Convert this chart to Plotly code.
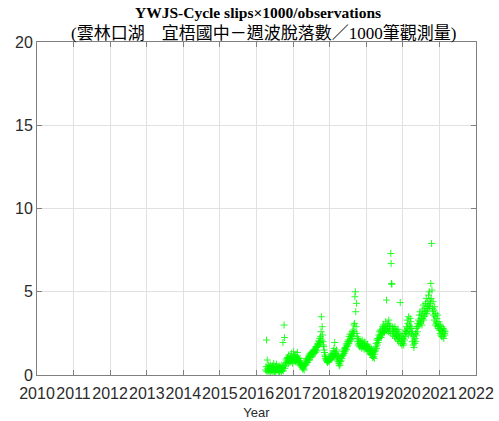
import calendar
from datetime import datetime, timedelta

import plotly.graph_objects as go

# Cycle slips per 1000 observations, station YWJS; several samples per month
months = [
    "2016-04", "2016-05", "2016-06", "2016-07", "2016-08", "2016-09", "2016-10", "2016-11", "2016-12",
    "2017-01", "2017-02", "2017-03", "2017-04", "2017-05", "2017-06", "2017-07", "2017-08", "2017-09",
    "2017-10", "2017-11", "2017-12",
    "2018-01", "2018-02", "2018-03", "2018-04", "2018-05", "2018-06", "2018-07", "2018-08", "2018-09",
    "2018-10", "2018-11", "2018-12",
    "2019-01", "2019-02", "2019-03", "2019-04", "2019-05", "2019-06", "2019-07", "2019-08", "2019-09",
    "2019-10", "2019-11", "2019-12",
    "2020-01", "2020-02", "2020-03", "2020-04", "2020-05", "2020-06", "2020-07", "2020-08", "2020-09",
    "2020-10", "2020-11", "2020-12",
    "2021-01", "2021-02",
]

slips_2016 = [
    [0.3, 0.5, 2.1, 0.2, 0.9, 0.4, 0.25, 0.6],
    [0.3, 0.15, 0.5, 0.35, 0.6, 0.2, 0.45, 0.3],
    [0.25, 0.4, 0.55, 0.2, 0.3, 0.7, 0.35, 0.15],
    [0.4, 0.2, 0.5, 0.3, 0.65, 0.25, 0.45, 0.35],
    [0.3, 0.5, 0.2, 0.4, 0.15, 0.55, 0.3, 0.45],
    [0.35, 0.2, 0.6, 0.3, 0.45, 1.95, 0.25, 0.5],
    [3.0, 2.25, 0.4, 0.55, 0.7, 0.9, 0.75, 1.0],
    [0.8, 1.05, 0.9, 0.7, 1.2, 0.85, 1.0, 0.75],
    [0.95, 1.1, 0.8, 1.3, 0.9, 1.05, 0.7, 1.0],
]
slips_2017 = [
    [1.0, 1.4, 0.85, 1.1, 0.9, 1.2, 0.8, 1.05],
    [0.9, 1.1, 0.75, 1.35, 0.95, 0.8, 1.0, 0.85],
    [0.85, 0.7, 1.0, 0.6, 0.75, 0.55, 0.65, 0.5],
    [0.45, 0.35, 0.6, 0.4, 0.5, 0.3, 0.55, 0.65],
    [0.7, 0.85, 0.6, 0.95, 0.8, 1.0, 0.75, 0.9],
    [0.95, 1.1, 1.2, 0.9, 1.15, 1.3, 1.05, 1.25],
    [1.2, 1.35, 1.1, 1.4, 1.25, 1.5, 1.3, 1.45],
    [1.4, 1.55, 1.35, 1.7, 1.5, 1.65, 1.45, 1.8],
    [1.7, 1.9, 1.75, 2.05, 1.85, 2.0, 2.2, 1.95],
    [2.3, 2.6, 3.5, 2.1, 2.9, 2.4, 2.0, 1.8],
    [1.7, 1.5, 1.35, 1.2, 1.1, 1.0, 0.95, 0.85],
    [0.9, 0.8, 0.75, 0.95, 0.85, 1.0, 0.8, 0.9],
]
slips_2018 = [
    [0.9, 1.1, 1.0, 1.25, 0.95, 1.15, 1.3, 1.05],
    [1.2, 1.45, 1.1, 1.6, 1.3, 1.95, 1.25, 1.4],
    [1.3, 1.1, 1.5, 0.9, 1.2, 1.0, 0.8, 1.15],
    [0.7, 0.55, 0.9, 0.6, 0.8, 1.0, 0.85, 1.1],
    [1.0, 1.25, 1.15, 1.4, 1.2, 1.5, 1.3, 1.6],
    [1.4, 1.65, 1.5, 1.8, 1.55, 1.9, 1.7, 2.0],
    [1.8, 2.1, 1.9, 2.3, 2.0, 2.45, 2.15, 2.3],
    [2.1, 2.4, 2.2, 2.6, 2.35, 2.7, 2.5, 3.0],
    [2.6, 3.1, 4.7, 5.0, 3.8, 2.9, 4.3, 2.5],
    [2.3, 2.0, 2.2, 1.8, 2.1, 1.9, 1.7, 2.0],
    [1.8, 2.0, 1.7, 1.9, 1.6, 2.1, 1.75, 1.85],
    [1.7, 1.9, 1.55, 1.8, 2.0, 1.65, 1.75, 1.6],
]
slips_2019 = [
    [1.6, 1.75, 1.5, 1.85, 1.45, 1.7, 1.4, 1.65],
    [1.4, 1.55, 1.25, 1.5, 1.3, 1.6, 1.2, 1.45],
    [1.2, 1.05, 1.35, 1.1, 1.5, 1.0, 1.25, 1.4],
    [1.5, 1.7, 1.9, 1.6, 2.1, 1.8, 2.2, 1.95],
    [2.1, 2.4, 2.2, 2.6, 2.3, 2.7, 2.45, 2.25],
    [2.4, 2.7, 2.5, 2.9, 2.6, 3.0, 2.55, 2.8],
    [2.6, 2.9, 2.7, 3.2, 2.8, 4.5, 2.65, 3.0],
    [2.8, 3.1, 2.6, 3.3, 2.9, 2.7, 3.0, 2.5],
    [7.3, 6.7, 5.5, 5.45, 2.9, 2.4, 2.7, 2.6],
    [2.5, 2.8, 2.3, 2.9, 2.6, 2.2, 2.7, 2.4],
    [2.3, 2.6, 2.1, 2.75, 2.4, 2.0, 2.5, 2.2],
    [2.2, 4.35, 1.9, 2.4, 2.1, 1.8, 2.3, 2.0],
]
slips_2020 = [
    [1.9, 2.2, 1.8, 2.5, 2.1, 2.7, 2.3, 2.6],
    [2.5, 2.9, 2.6, 3.3, 2.8, 3.1, 2.4, 3.5],
    [2.7, 3.0, 2.6, 3.4, 2.9, 3.2, 2.5, 2.8],
    [2.4, 2.0, 2.6, 1.8, 2.3, 1.65, 2.1, 1.9],
    [2.2, 2.5, 2.0, 2.8, 2.4, 2.9, 2.6, 3.1],
    [2.9, 3.3, 3.0, 3.6, 3.2, 3.8, 3.1, 3.4],
    [3.2, 3.6, 3.0, 3.9, 3.4, 4.2, 3.3, 3.7],
    [3.5, 4.0, 3.6, 4.3, 3.8, 4.6, 3.7, 4.1],
    [3.9, 4.4, 4.0, 4.8, 4.2, 5.0, 4.1, 4.5],
    [4.3, 5.5, 4.6, 7.9, 5.1, 4.0, 3.8, 4.4],
    [3.6, 3.9, 3.3, 4.1, 3.5, 3.0, 3.7, 3.2],
    [3.1, 3.4, 2.9, 3.6, 3.0, 2.8, 3.2, 2.7],
]
slips_2021 = [
    [2.8, 2.5, 3.0, 2.4, 2.7, 2.3, 2.9, 2.6],
    [2.6, 2.3, 2.8, 2.2, 2.7, 2.5, 2.4, 2.6],
]

year_ticks = [str(y) for y in range(2010, 2023)]
y_ticks = [0, 5, 10, 15, 20]

monthly = slips_2016 + slips_2017 + slips_2018 + slips_2019 + slips_2020 + slips_2021

# spread each month's samples evenly across that month
dates, values = [], []
for month, samples in zip(months, monthly):
    start = datetime.strptime(month, "%Y-%m")
    ndays = calendar.monthrange(start.year, start.month)[1]
    n = len(samples)
    for i, v in enumerate(samples):
        dates.append(start + timedelta(days=(i + 0.5) * ndays / n))
        values.append(v)

fig = go.Figure(
    go.Scatter(
        x=dates,
        y=values,
        mode="markers",
        marker=dict(
            symbol="cross-thin",
            size=5,
            color="rgb(0,255,0)",
            opacity=0.85,
            line=dict(color="rgb(0,255,0)", width=1),
        ),
        showlegend=False,
    )
)

axis_col = "#808080"
grid_col = "#e1e1e1"
tick_font = dict(family="Liberation Sans, Arial, sans-serif", size=16, color="#2b2b2b")

fig.update_xaxes(
    type="date",
    range=["2010-01-01", "2022-01-01"],
    tickvals=[f"{y}-01-01" for y in year_ticks],
    ticktext=year_ticks,
    tickangle=0,
    ticks="inside",
    ticklen=5,
    tickcolor=axis_col,
    ticklabelstandoff=4,
    showline=True,
    linecolor=axis_col,
    linewidth=1,
    mirror="ticks",
    showgrid=True,
    gridcolor=grid_col,
    zeroline=False,
    tickfont=tick_font,
    title=dict(text="Year", font=dict(family="Liberation Sans, Arial, sans-serif", size=13, color="#2b2b2b"), standoff=6),
    automargin=False,
)
fig.update_yaxes(
    range=[0, 20],
    tickvals=y_ticks,
    ticks="inside",
    ticklen=5,
    tickcolor=axis_col,
    showline=True,
    linecolor=axis_col,
    linewidth=1,
    mirror="ticks",
    showgrid=True,
    gridcolor=grid_col,
    zeroline=False,
    tickfont=tick_font,
    automargin=False,
)

title_font = "Liberation Serif, Times New Roman, Noto Sans CJK TC, serif"
fig.update_layout(
    width=499,
    height=421,
    margin=dict(l=37, r=23, t=42, b=46),
    paper_bgcolor="white",
    plot_bgcolor="white",
    annotations=[
        dict(
            text="<b>YWJS-Cycle slips×1000/observations</b>",
            xref="paper", yref="paper", x=0.503, y=1.09,
            xanchor="center", yanchor="middle", showarrow=False,
            font=dict(family=title_font, size=15.5, color="black"),
        ),
        dict(
            text="(雲林口湖　宜梧國中－週波脫落數／1000筆觀測量)",
            xref="paper", yref="paper", x=0.515, y=1.026,
            xanchor="center", yanchor="middle", showarrow=False,
            font=dict(family=title_font, size=17, color="black"),
        ),
    ],
)

fig.write_html("out.html")
